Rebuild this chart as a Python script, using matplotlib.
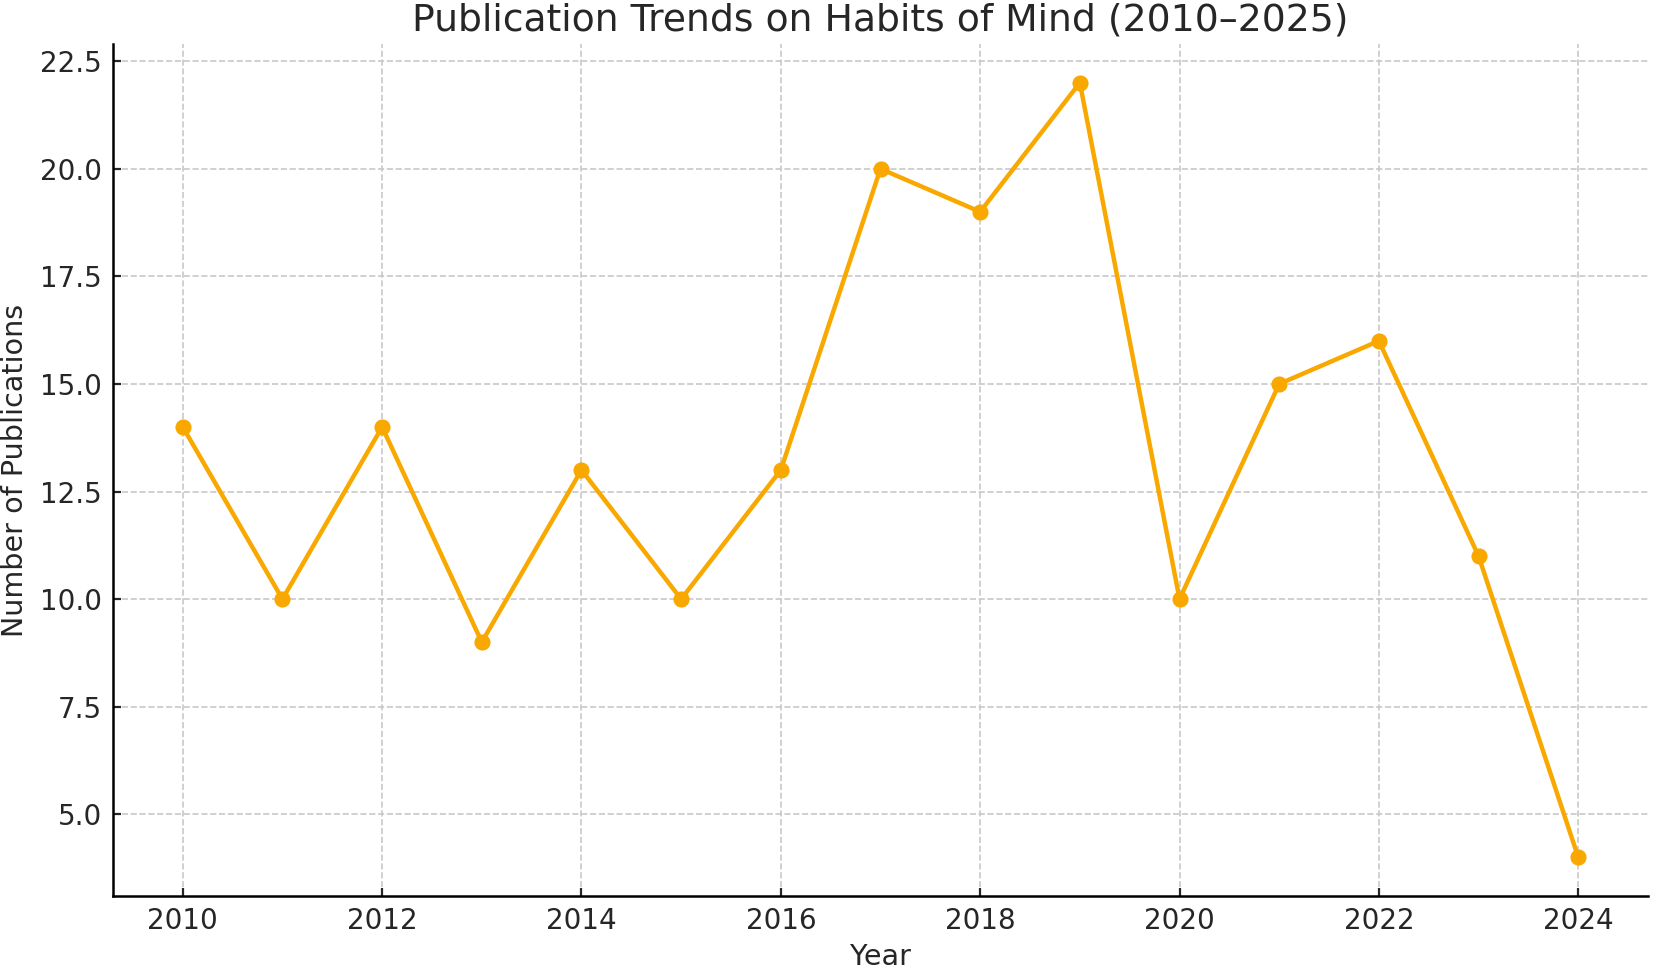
import matplotlib
matplotlib.use("Agg")
import matplotlib.pyplot as plt

years = [2010, 2011, 2012, 2013, 2014, 2015, 2016, 2017, 2018, 2019, 2020, 2021, 2022, 2023, 2024]
counts = [14, 10, 14, 9, 13, 10, 13, 20, 19, 22, 10, 15, 16, 11, 4]

plt.rcParams['font.family'] = ['DejaVu Sans']
fig = plt.figure(figsize=(1654/200, 969/200), dpi=200)
ax = fig.add_axes([113/1654, 1-896/969, (1648-113)/1654, (896-44)/969])

ax.plot(years, counts, color='#F9A800', marker='o', markersize=4.8, linewidth=1.6)

ax.set_title('Publication Trends on Habits of Mind (2010–2025)', fontsize=13.6, color='#262626', pad=5)
ax.set_xlabel('Year', fontsize=10.3, color='#262626', labelpad=3)
ax.set_ylabel('Number of Publications', fontsize=10.3, color='#262626', labelpad=4)
ax.tick_params(labelsize=10, colors='#262626', width=0.8, length=3, direction='in', pad=4)
ax.grid(True, linestyle='--', color='#c8c8c8', linewidth=0.6)
ax.spines['top'].set_visible(False)
ax.spines['right'].set_visible(False)
for s in ('left', 'bottom'):
    ax.spines[s].set_linewidth(0.9)
    ax.spines[s].set_color('black')

fig.savefig('out.png', dpi=200)
